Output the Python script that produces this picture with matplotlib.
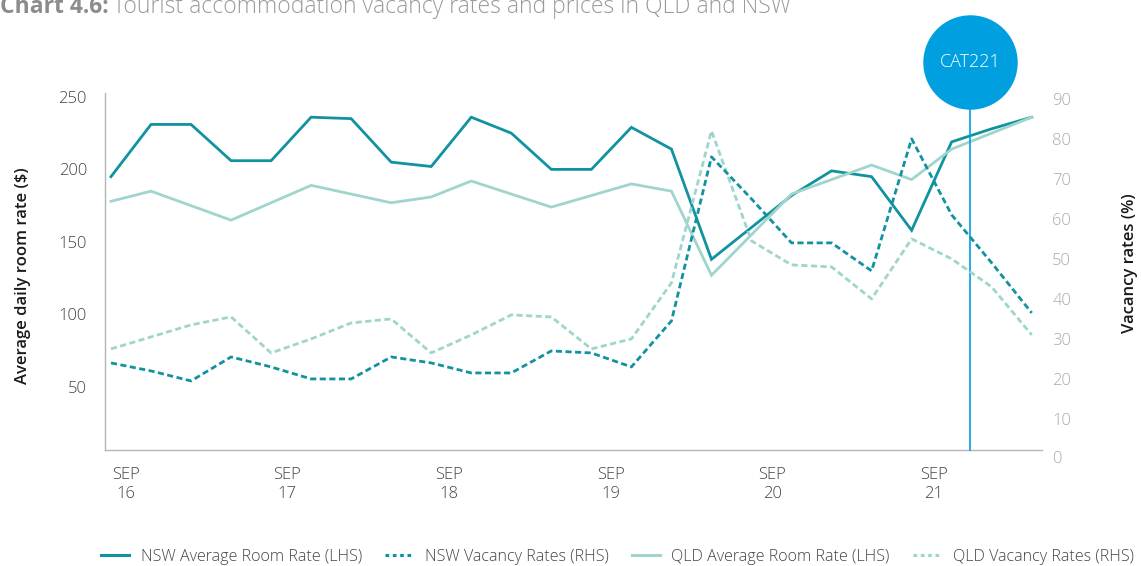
import matplotlib
matplotlib.use("Agg")
import matplotlib.pyplot as plt
import matplotlib.transforms as mtransforms
from matplotlib.lines import Line2D
import numpy as np

plt.rcParams['font.family'] = ['Open Sans', 'DejaVu Sans']

# Quarterly observations, Sep 2016 to Jun 2022
nsw_room_rate = [195, 231, 231, 206, 206, 236, 235, 205, 202, 236, 225, 200,
                 200, 229, 214, 138, 160, 182, 199, 195, 158, 219, 228, 236]
qld_room_rate = [178, 185, 175, 165, 177, 189, 183, 177, 181, 192, 183, 174,
                 182, 190, 185, 127, 155, 183, 193, 203, 193, 214, 225, 236]
nsw_vacancy = [24, 22, 19.5, 25.5, 23, 20, 20, 25.5, 24, 21.5, 21.5, 27,
               26.5, 23, 34.5, 75.5, 65, 54, 54, 47, 80, 61, 49, 36.5]
qld_vacancy = [27.5, 30.5, 33.5, 35.5, 26.5, 30, 34, 35, 26.5, 31, 36, 35.5,
               27.5, 30, 44, 82, 54.5, 48.5, 48, 40, 55, 50, 43, 31]

year_labels = ["SEP\n16", "SEP\n17", "SEP\n18", "SEP\n19", "SEP\n20", "SEP\n21"]
left_ticks = [50, 100, 150, 200, 250]
right_ticks = [10, 20, 30, 40, 50, 60, 70, 80, 90]
marker_label = "CAT221"

DARK = "#11939f"
LIGHT = "#9fd5cc"
BLUE = "#009fdf"

fig = plt.figure(figsize=(11.41, 5.66), dpi=100)
ax = fig.add_axes([0.092, 0.205, 0.821, 0.631])
ax2 = ax.twinx()

x = np.arange(len(nsw_room_rate))
lw = 2.0
dash = (2.2, 1.25)

l1, = ax.plot(x, nsw_room_rate, color=DARK, lw=lw, solid_joinstyle='miter')
l3, = ax.plot(x, qld_room_rate, color=LIGHT, lw=lw, solid_joinstyle='miter')
l4, = ax2.plot(x, qld_vacancy, color=LIGHT, lw=lw, dashes=dash)
l2, = ax2.plot(x, nsw_vacancy, color=DARK, lw=lw, dashes=dash)

ax.set_xlim(-0.15, 23.25)
ax.set_ylim(6.55, 252.8)
ax2.set_ylim(2.25, 91.5)

# axes styling
for s in ["top", "right"]:
    ax.spines[s].set_visible(False)
for s in ax2.spines.values():
    s.set_visible(False)
for s in ["left", "bottom"]:
    ax.spines[s].set_color("#b5b5b5")
    ax.spines[s].set_linewidth(1.0)

ax.set_yticks(left_ticks)
ax.tick_params(axis='y', length=0, pad=13, labelsize=12, labelcolor="#444444")
ax.set_xticks(np.linspace(0.37, 20.55, 6))
ax.set_xticklabels(year_labels, linespacing=1.25)
ax.tick_params(axis='x', length=0, pad=12, labelsize=12, labelcolor="#444444")
for t in ax.get_yticklabels() + ax.get_xticklabels():
    t.set_fontweight('light')

ax2.set_yticks(right_ticks)
ax2.tick_params(axis='y', length=0, pad=7.5, labelsize=12, labelcolor="#aaaaaa")
for t in ax2.get_yticklabels():
    t.set_fontweight('light')
ax2.annotate("0", xy=(1, 0), xycoords=('axes fraction', 'data'),
             xytext=(7.5, 0), textcoords='offset points', ha='left', va='center',
             fontsize=12, color="#aaaaaa", fontweight='light', annotation_clip=False)

# axis titles
fig.text(0.020, 1 - 276 / 566, "Average daily room rate ($)", rotation=90,
         ha='center', va='center', fontsize=12, fontweight='semibold', color="#1a1a1a")
fig.text(0.990, 1 - 263 / 566, "Vacancy rates (%)", rotation=90,
         ha='center', va='center', fontsize=12, fontweight='semibold', color="#1a1a1a")

# vertical marker with labelled circle
mx = 21.47
trans = mtransforms.blended_transform_factory(ax.transData, ax.transAxes)
ax.plot([mx, mx], [0, 1.08], transform=trans, color=BLUE, lw=1.2,
        clip_on=False, zorder=5)
ax.plot([mx], [1.085], transform=trans, marker='o', markersize=68,
        color=BLUE, markeredgewidth=0, clip_on=False, zorder=6)
ax.text(mx, 1.085, marker_label, transform=trans, ha='center', va='center',
        color='white', fontsize=13, fontweight='light', zorder=7, clip_on=False)

# title
t1 = fig.text(0.0, 1 - 13 / 566, "Chart 4.6:", ha='left', va='baseline',
              fontsize=16.5, fontweight='bold', color="#8c8c8c")
fig.canvas.draw()
bb = t1.get_window_extent()
fig.text(bb.x1 / fig.bbox.width + 0.004, 1 - 13 / 566,
         "Tourist accommodation vacancy rates and prices in QLD and NSW",
         ha='left', va='baseline', fontsize=16.5, fontweight='light', color="#9a9a9a")

# legend
handles = [Line2D([], [], color=DARK, lw=2.2),
           Line2D([], [], color=DARK, lw=2.2, dashes=(1.2, 1.2)),
           Line2D([], [], color=LIGHT, lw=2.2),
           Line2D([], [], color=LIGHT, lw=2.2, dashes=(1.2, 1.2))]
labels = ["NSW Average Room Rate (LHS)", "NSW Vacancy Rates (RHS)",
          "QLD Average Room Rate (LHS)", "QLD Vacancy Rates (RHS)"]
leg = fig.legend(handles, labels, loc='center', bbox_to_anchor=(0.541, 0.016),
                 ncol=4, frameon=False, fontsize=11.6, handlelength=1.75,
                 handletextpad=0.7, columnspacing=1.45)
for t in leg.get_texts():
    t.set_color("#444444")
    t.set_fontweight('light')

fig.savefig("out.png", dpi=100)
